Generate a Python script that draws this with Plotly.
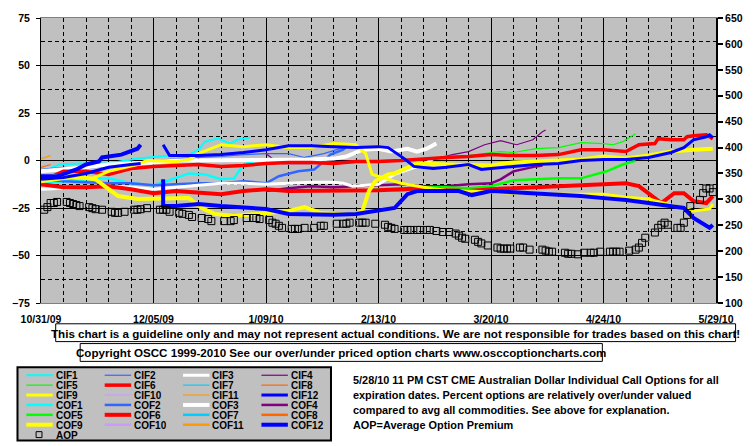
import plotly.graph_objects as go

# ---------------- data ----------------
x_tickvals = ["2009-10-31", "2009-12-05", "2010-01-09", "2010-02-13", "2010-03-20", "2010-04-24", "2010-05-29"]
x_ticktext = ["10/31/09", "12/05/09", "1/09/10", "2/13/10", "3/20/10", "4/24/10", "5/29/10"]

cif1_dates = ["2009-10-31", "2009-11-06", "2009-11-12", "2009-11-21", "2009-11-30", "2009-12-10", "2009-12-16", "2009-12-19", "2009-12-21", "2009-12-25", "2009-12-29", "2009-12-31", "2010-01-04"]
cif1_vals = [-5.7, -2.1, -1.6, -1.6, 1.0, 2.6, 3.1, 5.7, 9.9, 11.5, 8.9, 10.9, 12.0]

cif2_dates = ["2009-10-31", "2009-11-07", "2009-11-14", "2009-11-21", "2009-11-28", "2009-12-05", "2009-12-12", "2009-12-19", "2009-12-26", "2010-01-02", "2010-01-09", "2010-01-16", "2010-01-21", "2010-01-27", "2010-02-02", "2010-02-03"]
cif2_vals = [-4.7, -3.6, -4.2, -3.1, -2.1, -0.5, 1.0, 1.6, 2.1, 3.1, 3.6, 3.6, 1.6, 3.6, 6.8, 7.8]

cif3_dates = ["2009-10-31", "2009-11-07", "2009-11-14", "2009-11-21", "2009-11-28", "2009-12-05", "2009-12-12", "2009-12-19", "2009-12-26", "2010-01-02", "2010-01-09", "2010-01-16", "2010-01-23", "2010-01-30", "2010-02-02", "2010-02-05", "2010-02-13", "2010-02-18", "2010-02-23", "2010-02-27", "2010-03-02"]
cif3_vals = [-15.1, -14.6, -14.1, -13.5, -14.1, -15.1, -14.1, -13.0, -12.0, -12.0, -12.5, -12.0, -11.5, -11.5, -12.0, -13.5, -12.5, -7.3, -4.2, -2.1, 1.0]

cif4_dates = ["2010-01-09", "2010-01-11", "2010-01-14", "2010-01-23", "2010-01-30", "2010-02-06", "2010-02-13", "2010-02-20", "2010-02-27", "2010-03-03", "2010-03-08", "2010-03-13", "2010-03-18", "2010-03-23", "2010-03-28", "2010-04-02", "2010-04-05", "2010-04-06"]
cif4_vals = [3.6, 1.0, -1.6, -1.6, -0.5, -0.5, -0.5, 0.0, 0.5, 1.0, 3.1, 4.7, 8.3, 10.4, 8.3, 10.9, 15.1, 16.1]

cif5_dates = ["2010-02-08", "2010-02-20", "2010-02-27", "2010-03-06", "2010-03-13", "2010-03-20", "2010-03-23", "2010-03-27", "2010-04-03", "2010-04-10", "2010-04-17", "2010-04-24", "2010-04-27", "2010-04-30", "2010-05-04"]
cif5_vals = [-0.5, 0.5, 1.0, 2.1, 2.6, 4.2, 4.7, 4.2, 6.2, 6.8, 9.4, 8.9, 8.3, 9.9, 14.1]

cif6_dates = ["2009-10-31", "2009-11-07", "2009-11-14", "2009-11-21", "2009-11-28", "2009-12-05", "2009-12-12", "2009-12-19", "2009-12-26", "2010-01-02", "2010-01-09", "2010-01-16", "2010-01-23", "2010-01-30", "2010-02-06", "2010-02-13", "2010-02-20", "2010-02-27", "2010-03-06", "2010-03-13", "2010-03-20", "2010-03-27", "2010-04-03", "2010-04-10", "2010-04-17", "2010-04-24", "2010-05-01", "2010-05-05", "2010-05-10", "2010-05-11", "2010-05-15", "2010-05-19", "2010-05-20", "2010-05-22", "2010-05-26", "2010-05-28"]
cif6_vals = [-10.9, -5.7, -5.7, -7.3, -4.2, -3.1, -2.6, -2.1, -3.1, -2.6, -1.6, -1.0, -1.0, -1.6, -0.5, -0.5, 0.0, 1.0, 1.6, 2.1, 3.1, 2.6, 2.6, 3.1, 5.7, 5.7, 4.7, 8.3, 8.9, 11.5, 10.9, 10.9, 12.5, 13.0, 13.5, 11.5]

cif8_dates = ["2009-10-31", "2009-11-03"]
cif8_vals = [-3.6, -2.1]

cif9_dates = ["2009-10-31", "2009-11-04", "2009-11-11", "2009-11-16", "2009-11-21", "2009-11-25", "2009-11-30", "2009-12-03", "2009-12-12", "2009-12-16", "2009-12-19", "2009-12-26", "2010-01-02", "2010-01-09", "2010-01-16", "2010-01-23", "2010-01-30", "2010-02-06", "2010-02-09", "2010-02-11", "2010-02-13", "2010-02-20", "2010-02-27", "2010-03-06", "2010-03-13", "2010-03-20", "2010-03-27", "2010-04-03", "2010-04-10", "2010-04-17", "2010-04-24", "2010-05-01", "2010-05-08", "2010-05-15", "2010-05-22", "2010-05-27", "2010-05-28"]
cif9_vals = [-9.9, -7.8, -9.4, -9.4, -5.7, -4.2, -2.1, 0.0, -0.5, 0.5, 3.6, 8.3, 7.3, 8.3, 6.8, 6.8, 8.9, 8.3, 3.6, -7.3, -8.3, -12.0, -14.1, -15.6, -16.1, -16.7, -17.2, -17.2, -17.7, -17.7, -17.7, -19.3, -20.3, -23.4, -26.6, -25.5, -22.9]

cif11_dates = ["2009-10-31", "2009-11-03"]
cif11_vals = [1.0, 2.6]

cif12_dates = ["2009-12-08", "2009-12-10", "2009-12-19", "2009-12-26", "2010-01-02", "2010-01-09", "2010-01-16", "2010-01-23", "2010-01-30", "2010-02-06", "2010-02-13", "2010-02-16", "2010-02-21", "2010-02-24", "2010-03-02", "2010-03-06", "2010-03-13", "2010-03-17", "2010-03-20", "2010-03-27", "2010-04-03", "2010-04-10", "2010-04-17", "2010-04-24", "2010-05-01", "2010-05-08", "2010-05-15", "2010-05-19", "2010-05-22", "2010-05-26", "2010-05-27", "2010-05-28"]
cif12_vals = [8.3, 2.6, 2.6, 3.1, 4.2, 5.7, 7.8, 7.8, 7.3, 6.8, 7.3, 6.8, 1.0, -3.1, -4.2, -3.6, -2.1, -4.7, -4.2, -3.1, -2.1, -1.6, 0.0, 0.5, 0.5, 1.6, 4.2, 6.8, 10.9, 12.5, 13.5, 12.0]

cif12_old_dates = ["2009-10-31", "2009-11-07", "2009-11-14", "2009-11-21", "2009-11-28", "2009-12-01"]
cif12_old_vals = [-9.9, -8.9, -6.8, -3.6, -2.1, -1.6]

cof1_dates = ["2009-10-31", "2009-11-07", "2009-11-14", "2009-11-21", "2009-11-28", "2009-12-05", "2009-12-09", "2009-12-16", "2009-12-21", "2009-12-26", "2009-12-30", "2010-01-02", "2010-01-05"]
cof1_vals = [-12.0, -10.9, -9.9, -9.4, -12.0, -13.0, -10.9, -6.8, -7.3, -9.9, -9.4, -2.1, -0.5]

cof2_dates = ["2009-10-31", "2009-11-07", "2009-11-14", "2009-11-21", "2009-11-28", "2009-12-05", "2009-12-12", "2009-12-19", "2009-12-26", "2010-01-02", "2010-01-09", "2010-01-13", "2010-01-19", "2010-01-24", "2010-01-27", "2010-01-29", "2010-02-02", "2010-02-03"]
cof2_vals = [-9.9, -10.9, -11.5, -12.0, -12.0, -13.0, -12.5, -12.0, -12.0, -10.9, -12.0, -8.3, -5.7, -4.7, -0.5, 3.1, 5.7, 7.3]

cof3_dates = ["2009-10-31", "2009-11-07", "2009-11-14", "2009-11-21", "2009-11-28", "2009-12-05", "2009-12-12", "2009-12-19", "2009-12-26", "2010-01-02", "2010-01-09", "2010-01-16", "2010-01-23", "2010-01-30", "2010-02-03", "2010-02-08", "2010-02-13", "2010-02-17", "2010-02-22", "2010-02-25", "2010-02-28", "2010-03-03"]
cof3_vals = [-5.7, -4.7, -3.6, -2.1, -1.6, -1.0, 0.0, 0.0, 0.0, 0.5, 0.5, 0.5, 0.5, 1.0, 2.1, 5.7, 6.2, 4.7, 6.2, 4.7, 6.2, 8.9]

cof4_dates = ["2010-01-09", "2010-01-16", "2010-01-23", "2010-01-30", "2010-02-06", "2010-02-13", "2010-02-20", "2010-02-27", "2010-03-06", "2010-03-13", "2010-03-20", "2010-03-23", "2010-03-27", "2010-04-03", "2010-04-05"]
cof4_vals = [-16.1, -14.6, -13.5, -14.1, -13.5, -13.0, -12.5, -13.5, -13.5, -12.5, -12.0, -9.9, -5.7, -3.1, -2.6]

cof5_dates = ["2010-02-08", "2010-02-13", "2010-02-20", "2010-02-27", "2010-03-06", "2010-03-13", "2010-03-20", "2010-03-27", "2010-04-03", "2010-04-10", "2010-04-17", "2010-04-22", "2010-04-25", "2010-04-30", "2010-05-04"]
cof5_vals = [-16.1, -15.1, -16.1, -14.1, -14.1, -14.6, -13.5, -10.4, -9.9, -9.4, -9.4, -7.3, -5.7, -2.1, 0.0]

cof6_dates = ["2009-10-31", "2009-11-07", "2009-11-14", "2009-11-21", "2009-11-28", "2009-12-05", "2009-12-12", "2009-12-19", "2009-12-26", "2010-01-02", "2010-01-09", "2010-01-16", "2010-01-23", "2010-01-30", "2010-02-06", "2010-02-13", "2010-02-20", "2010-02-27", "2010-03-06", "2010-03-13", "2010-03-20", "2010-03-27", "2010-04-03", "2010-04-10", "2010-04-17", "2010-04-24", "2010-05-01", "2010-05-05", "2010-05-10", "2010-05-12", "2010-05-16", "2010-05-19", "2010-05-22", "2010-05-26", "2010-05-28"]
cof6_vals = [-12.5, -14.1, -14.1, -13.5, -15.1, -17.2, -16.1, -16.7, -17.7, -16.1, -15.1, -16.1, -16.1, -16.1, -16.1, -15.6, -15.1, -14.6, -15.6, -16.1, -15.1, -14.6, -14.1, -13.5, -13.0, -12.5, -12.0, -13.5, -19.8, -22.4, -17.2, -17.2, -21.4, -22.4, -18.7]

cof9_dates = ["2009-10-31", "2009-11-07", "2009-11-11", "2009-11-17", "2009-11-24", "2009-11-30", "2009-12-08", "2009-12-16", "2009-12-20", "2009-12-24", "2009-12-30", "2010-01-07", "2010-01-16", "2010-01-21", "2010-01-26", "2010-01-30", "2010-02-06", "2010-02-08", "2010-02-10", "2010-02-12", "2010-02-16", "2010-02-18", "2010-02-25", "2010-03-06", "2010-03-13", "2010-03-20", "2010-03-27", "2010-04-03", "2010-04-10", "2010-04-17", "2010-04-24", "2010-05-01", "2010-05-08", "2010-05-15", "2010-05-22", "2010-05-28"]
cof9_vals = [-10.9, -9.4, -8.3, -9.9, -18.7, -20.3, -20.3, -19.8, -25.0, -28.1, -29.2, -28.1, -26.6, -24.5, -27.6, -28.1, -28.1, -26.6, -16.1, -10.9, -7.3, -6.8, -1.6, -2.1, -2.6, -2.6, -1.0, -0.5, -0.5, 0.5, 2.1, 1.0, 2.6, 4.7, 5.7, 6.2]

cof12_old_dates = ["2009-10-31", "2009-11-05", "2009-11-11", "2009-11-14", "2009-11-18", "2009-11-19", "2009-11-25", "2009-11-30", "2009-12-01"]
cof12_old_vals = [-8.3, -8.3, -4.7, -2.1, -0.5, 1.6, 3.1, 6.2, 8.3]

cof12_dates = ["2009-12-08", "2009-12-08", "2009-12-12", "2009-12-19", "2009-12-26", "2010-01-02", "2010-01-09", "2010-01-16", "2010-01-23", "2010-01-30", "2010-02-06", "2010-02-11", "2010-02-18", "2010-02-20", "2010-02-22", "2010-02-25", "2010-03-06", "2010-03-10", "2010-03-14", "2010-03-20", "2010-03-27", "2010-04-03", "2010-04-10", "2010-04-17", "2010-04-24", "2010-05-01", "2010-05-08", "2010-05-15", "2010-05-19", "2010-05-22", "2010-05-27", "2010-05-28"]
cof12_vals = [-9.9, -24.0, -24.0, -22.9, -24.0, -24.5, -25.5, -28.1, -28.6, -28.6, -28.1, -26.6, -25.0, -21.4, -17.7, -16.1, -16.1, -16.1, -18.2, -16.1, -16.7, -17.2, -17.7, -18.7, -19.8, -20.8, -22.4, -24.0, -25.0, -30.2, -35.4, -33.9]

aop_dates = ["2009-11-01", "2009-11-02", "2009-11-03", "2009-11-04", "2009-11-05", "2009-11-08", "2009-11-09", "2009-11-10", "2009-11-11", "2009-11-12",
             "2009-11-15", "2009-11-16", "2009-11-17", "2009-11-19", "2009-11-22", "2009-11-23", "2009-11-24", "2009-11-26", "2009-11-29", "2009-11-30",
             "2009-12-01", "2009-12-03", "2009-12-07", "2009-12-08", "2009-12-09", "2009-12-10", "2009-12-13", "2009-12-14", "2009-12-16", "2009-12-17",
             "2009-12-20", "2009-12-22", "2009-12-23", "2009-12-27", "2009-12-29", "2009-12-30", "2010-01-03", "2010-01-05", "2010-01-06", "2010-01-07",
             "2010-01-10", "2010-01-11", "2010-01-12", "2010-01-13", "2010-01-14", "2010-01-17", "2010-01-18", "2010-01-19", "2010-01-21", "2010-01-24",
             "2010-01-26", "2010-01-27", "2010-01-31", "2010-02-02", "2010-02-03", "2010-02-04", "2010-02-07", "2010-02-08", "2010-02-09", "2010-02-12",
             "2010-02-15", "2010-02-16", "2010-02-17", "2010-02-18", "2010-02-21", "2010-02-22", "2010-02-23", "2010-02-25", "2010-02-26", "2010-02-28",
             "2010-03-01", "2010-03-03", "2010-03-05", "2010-03-07", "2010-03-09", "2010-03-10", "2010-03-11", "2010-03-12", "2010-03-15", "2010-03-16",
             "2010-03-17", "2010-03-19", "2010-03-22", "2010-03-23", "2010-03-24", "2010-03-25", "2010-03-26", "2010-03-29", "2010-03-30", "2010-04-01",
             "2010-04-05", "2010-04-06", "2010-04-07", "2010-04-08", "2010-04-12", "2010-04-13", "2010-04-14", "2010-04-16", "2010-04-18", "2010-04-20",
             "2010-04-21", "2010-04-23", "2010-04-26", "2010-04-27", "2010-04-28", "2010-04-29", "2010-05-02", "2010-05-04", "2010-05-05", "2010-05-06",
             "2010-05-07", "2010-05-10", "2010-05-11", "2010-05-12", "2010-05-13", "2010-05-14", "2010-05-17", "2010-05-18", "2010-05-19", "2010-05-20",
             "2010-05-21", "2010-05-24", "2010-05-25", "2010-05-26", "2010-05-27", "2010-05-28"]
aop_vals = [280, 285, 293, 293, 295, 295, 293, 291, 289, 287,
            285, 283, 281, 280, 276, 274, 274, 276, 280, 280,
            281, 283, 280, 280, 280, 276, 274, 272, 270, 266,
            264, 262, 258, 258, 258, 260, 264, 264, 264, 262,
            260, 255, 253, 249, 245, 243, 243, 243, 245, 245,
            249, 249, 253, 253, 253, 255, 255, 255, 255, 253,
            251, 247, 245, 243, 241, 241, 241, 241, 241, 241,
            241, 239, 237, 237, 234, 230, 226, 224, 222, 218,
            215, 211, 207, 205, 205, 205, 205, 207, 207, 203,
            203, 201, 199, 199, 197, 195, 195, 194, 197, 197,
            197, 199, 199, 199, 199, 199, 201, 203, 207, 216,
            226, 236, 245, 251, 255, 251, 245, 245, 255, 270,
            287, 299, 312, 321, 321, 314]

legend_names = ["CIF1", "CIF2", "CIF3", "CIF4", "CIF5", "CIF6", "CIF7", "CIF8", "CIF9", "CIF10", "CIF11", "CIF12",
                "COF1", "COF2", "COF3", "COF4", "COF5", "COF6", "COF7", "COF8", "COF9", "COF10", "COF11", "COF12"]

info_lines = ["5/28/10 11 PM CST CME Australian Dollar Individual Call Options for all",
              "expiration dates. Percent options are relatively over/under valued",
              "compared to avg all commodities. See above for explanation.",
              "AOP=Average Option Premium"]
disclaimer = "This chart is a guideline only and may not represent actual conditions. We are not responsible for trades based on this chart!"
copyright_txt = "Copyright OSCC 1999-2010 See our over/under priced option charts www.osccoptioncharts.com"

# ---------------- styles ----------------
month_colors = ["#00FFFF", "#3366FF", "#FFFFFF", "#800080", "#00FF00", "#FF0000",
                "#00CCFF", "#FF6600", "#FFFF00", "#CC99FF", "#FF9900", "#0000FF"]
cif_w = [2, 1.2, 3, 1.2, 1.2, 3.5, 1.2, 1.2, 3, 1.2, 1.2, 3]
cof_w = [2.5, 2.5, 4, 2.5, 2.5, 4, 2.5, 2.5, 4, 2.5, 2.5, 4]
style = {}
for i in range(12):
    style["CIF%d" % (i + 1)] = (month_colors[i], cif_w[i])
    style["COF%d" % (i + 1)] = (month_colors[i], cof_w[i])

W, H = 755, 446
L, R, T, B = 32, 34, 15, 143
PW, PH = W - L - R, H - T - B


def px(x):
    return (x - L) / PW


def py(y):
    return (H - B - y) / PH


FONT = "Liberation Sans, Arial, sans-serif"

fig = go.Figure()

series = [
    ("CIF1", cif1_dates, cif1_vals), ("CIF2", cif2_dates, cif2_vals),
    ("CIF4", cif4_dates, cif4_vals), ("CIF5", cif5_dates, cif5_vals),
    ("CIF8", cif8_dates, cif8_vals), ("CIF11", cif11_dates, cif11_vals),
    ("COF1", cof1_dates, cof1_vals), ("COF2", cof2_dates, cof2_vals),
    ("COF4", cof4_dates, cof4_vals), ("COF5", cof5_dates, cof5_vals),
    ("CIF3", cif3_dates, cif3_vals), ("COF3", cof3_dates, cof3_vals),
    ("CIF6", cif6_dates, cif6_vals), ("COF6", cof6_dates, cof6_vals),
    ("CIF9", cif9_dates, cif9_vals), ("COF9", cof9_dates, cof9_vals),
    ("CIF12", cif12_old_dates, cif12_old_vals), ("CIF12", cif12_dates, cif12_vals),
    ("COF12", cof12_old_dates, cof12_old_vals), ("COF12", cof12_dates, cof12_vals),
]
for name, d, v in series:
    c, w = style[name]
    fig.add_trace(go.Scatter(x=d, y=v, mode="lines", name=name, showlegend=False,
                             line=dict(color=c, width=w), hoverinfo="skip"))

fig.add_trace(go.Scatter(x=aop_dates, y=aop_vals, yaxis="y2", mode="markers", name="AOP",
                         showlegend=False,
                         marker=dict(symbol="square-open", size=7, color="black",
                                     line=dict(color="black", width=1))))

shapes = []
annotations = []


def bold(size):
    return dict(family=FONT, size=size, color="black", weight="bold")


# text boxes under the chart
shapes.append(dict(type="rect", xref="paper", yref="paper", x0=px(47), x1=px(741), y0=py(324), y1=py(342),
                   line=dict(color="black", width=1), fillcolor="white", layer="above"))
annotations.append(dict(xref="paper", yref="paper", x=px(394), y=py(333.5), text=disclaimer, showarrow=False,
                        xanchor="center", yanchor="middle", font=bold(11.6), borderpad=0))
shapes.append(dict(type="rect", xref="paper", yref="paper", x0=px(72), x1=px(605), y0=py(344), y1=py(362),
                   line=dict(color="black", width=1), fillcolor="white", layer="above"))
annotations.append(dict(xref="paper", yref="paper", x=px(338.5), y=py(353), text=copyright_txt, showarrow=False,
                        xanchor="center", yanchor="middle", font=bold(11.6), borderpad=0))

# legend box
shapes.append(dict(type="rect", xref="paper", yref="paper", x0=px(8), x1=px(328), y0=py(368), y1=py(442),
                   line=dict(color="black", width=2), fillcolor="#C0C0C0", layer="above"))
col_x = [17, 97, 177, 257]
row_y = [376, 386, 396, 406, 416, 426]
for idx, name in enumerate(legend_names):
    r, c = divmod(idx, 4)
    color, w = style[name]
    x0 = col_x[c]
    y0 = row_y[r]
    shapes.append(dict(type="line", xref="paper", yref="paper", x0=px(x0), x1=px(x0 + 27), y0=py(y0), y1=py(y0),
                       line=dict(color=color, width=w), layer="above"))
    annotations.append(dict(xref="paper", yref="paper", x=px(x0 + 29), y=py(y0 + 0.5), text=name, showarrow=False,
                            xanchor="left", yanchor="middle", font=bold(10), borderpad=0, height=9))
shapes.append(dict(type="rect", xref="paper", yref="paper", x0=px(27), x1=px(33), y0=py(433), y1=py(439),
                   line=dict(color="black", width=1), fillcolor="rgba(0,0,0,0)", layer="above"))
annotations.append(dict(xref="paper", yref="paper", x=px(46), y=py(436.5), text="AOP", showarrow=False,
                        xanchor="left", yanchor="middle", font=bold(10), borderpad=0, height=9))

# info text
for i, line in enumerate(info_lines):
    annotations.append(dict(xref="paper", yref="paper", x=px(349), y=py(381 + 15 * i), text=line, showarrow=False,
                            xanchor="left", yanchor="middle", font=bold(10.9), borderpad=0))

tickfont = bold(10.5)

fig.update_layout(
    width=W, height=H,
    margin=dict(l=L, r=R, t=T, b=B, pad=0),
    paper_bgcolor="white", plot_bgcolor="#C0C0C0",
    showlegend=False,
    shapes=shapes, annotations=annotations,
    xaxis=dict(type="date", range=["2009-10-31", "2010-05-29"], tickvals=x_tickvals, ticktext=x_ticktext,
               tickfont=tickfont, ticks="", showgrid=True, gridcolor="black", gridwidth=1,
               showline=True, linecolor="#808080", linewidth=1, mirror=True, ticklabelstandoff=6,
               minor=dict(tick0="2009-10-31", dtick=7 * 86400000, showgrid=True, gridcolor="black",
                          griddash="4px,3px", gridwidth=1),
               fixedrange=True),
    yaxis=dict(range=[-75, 75], tickvals=[-75, -50, -25, 0, 25, 50, 75], tickfont=tickfont,
               ticks="outside", ticklen=4, tickcolor="black", showgrid=True, gridcolor="black", gridwidth=1,
               zeroline=False, showline=True, linecolor="black", linewidth=1, ticklabelstandoff=4,
               minor=dict(tick0=0, dtick=12.5, showgrid=True, gridcolor="black", griddash="4px,3px", gridwidth=1),
               fixedrange=True),
    yaxis2=dict(range=[100, 650], tickvals=[100, 150, 200, 250, 300, 350, 400, 450, 500, 550, 600, 650],
                overlaying="y", side="right", tickfont=tickfont, ticks="outside", ticklen=5, tickcolor="black",
                tickwidth=2, showgrid=False, zeroline=False, showline=True, linecolor="black", linewidth=2,
                fixedrange=True),
)

fig.write_html("out.html")
